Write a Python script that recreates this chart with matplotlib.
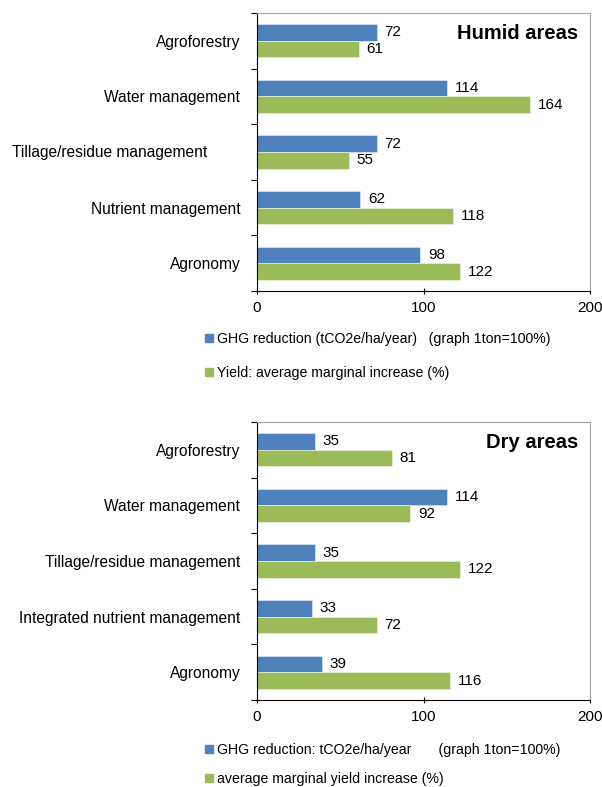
import matplotlib
matplotlib.use("Agg")
import matplotlib.pyplot as plt
import numpy as np
from matplotlib.patches import Patch

plt.rcParams['font.family'] = ['Liberation Sans', 'DejaVu Sans']

# Humid areas
humid_cats = ['Agroforestry', 'Water management', 'Tillage/residue management',
              'Nutrient management', 'Agronomy']
humid_ghg = [72, 114, 72, 62, 98]
humid_yield = [61, 164, 55, 118, 122]
humid_legend = ['GHG reduction (tCO2e/ha/year)   (graph 1ton=100%)',
                'Yield: average marginal increase (%)']

# Dry areas
dry_cats = ['Agroforestry', 'Water management', 'Tillage/residue management',
            'Integrated nutrient management', 'Agronomy']
dry_ghg = [35, 114, 35, 33, 39]
dry_yield = [81, 92, 122, 72, 116]
dry_legend = ['GHG reduction: tCO2e/ha/year       (graph 1ton=100%)',
              'average marginal yield increase (%)']

BLUE = '#4F81BD'
GREEN = '#9BBB59'
FS = 11.2

fig = plt.figure(figsize=(6.02, 7.87), dpi=100)


def panel(rect, cats, ghg, yld, title, legend_labels, leg_y, leg_space, shift_label=None):
    ax = fig.add_axes(rect)
    y = np.arange(len(cats))
    h = 0.3
    ax.barh(y - h / 2, ghg, height=h, color=BLUE, edgecolor='#DCE6F2', linewidth=0.5)
    ax.barh(y + h / 2, yld, height=h, color=GREEN, edgecolor='#EBF1DE', linewidth=0.5)
    for yi, v in zip(y, ghg):
        ax.annotate(str(v), (v, yi - h / 2), xytext=(5.5, 0), textcoords='offset points',
                    va='center', ha='left', fontsize=11)
    for yi, v in zip(y, yld):
        ax.annotate(str(v), (v, yi + h / 2), xytext=(5.5, 0), textcoords='offset points',
                    va='center', ha='left', fontsize=11)

    ax.set_xlim(0, 200)
    ax.set_ylim(len(cats) - 0.5, -0.5)
    ax.set_xticks([0, 100, 200])
    ax.set_yticks(y)
    labels = [c if i != shift_label else '' for i, c in enumerate(cats)]
    ax.set_yticklabels(labels, fontsize=FS)
    if shift_label is not None:
        # this label sits further left in the original
        ax.annotate(cats[shift_label], (0, shift_label), xycoords=('axes fraction', 'data'),
                    xytext=(-35.5, 0), textcoords='offset points',
                    ha='right', va='center', fontsize=FS)
    ax.set_yticks(np.arange(len(cats) + 1) - 0.5, minor=True)
    ax.tick_params(axis='y', which='major', length=0, pad=12)
    ax.tick_params(axis='y', which='minor', length=4, width=0.8, direction='out')
    ax.tick_params(axis='x', length=4, width=0.8, direction='inout', labelsize=11, pad=5.5)
    for s in ['top', 'right']:
        ax.spines[s].set_color('#A6A6A6')
        ax.spines[s].set_linewidth(0.8)
    for s in ['left', 'bottom']:
        ax.spines[s].set_color('black')
        ax.spines[s].set_linewidth(0.8)

    ax.text(0.964, 0.928, title, transform=ax.transAxes, ha='right', va='center',
            fontsize=14.5, fontweight='bold')

    handles = [Patch(color=BLUE), Patch(color=GREEN)]
    fig.legend(handles, legend_labels, loc='upper left',
               bbox_to_anchor=(205 / 602, leg_y), frameon=False, fontsize=10.2,
               handlelength=0.55, handleheight=0.55, handletextpad=0.3,
               labelspacing=leg_space, borderpad=0, borderaxespad=0)
    return ax


panel([257 / 602, 1 - 291 / 787, 333 / 602, 278 / 787], humid_cats, humid_ghg,
      humid_yield, 'Humid areas', humid_legend, 1 - 332 / 787, 1.4, shift_label=2)
panel([257 / 602, 1 - 700 / 787, 333 / 602, 278 / 787], dry_cats, dry_ghg,
      dry_yield, 'Dry areas', dry_legend, 1 - 743 / 787, 1.05)

fig.savefig('out.png', dpi=100)
